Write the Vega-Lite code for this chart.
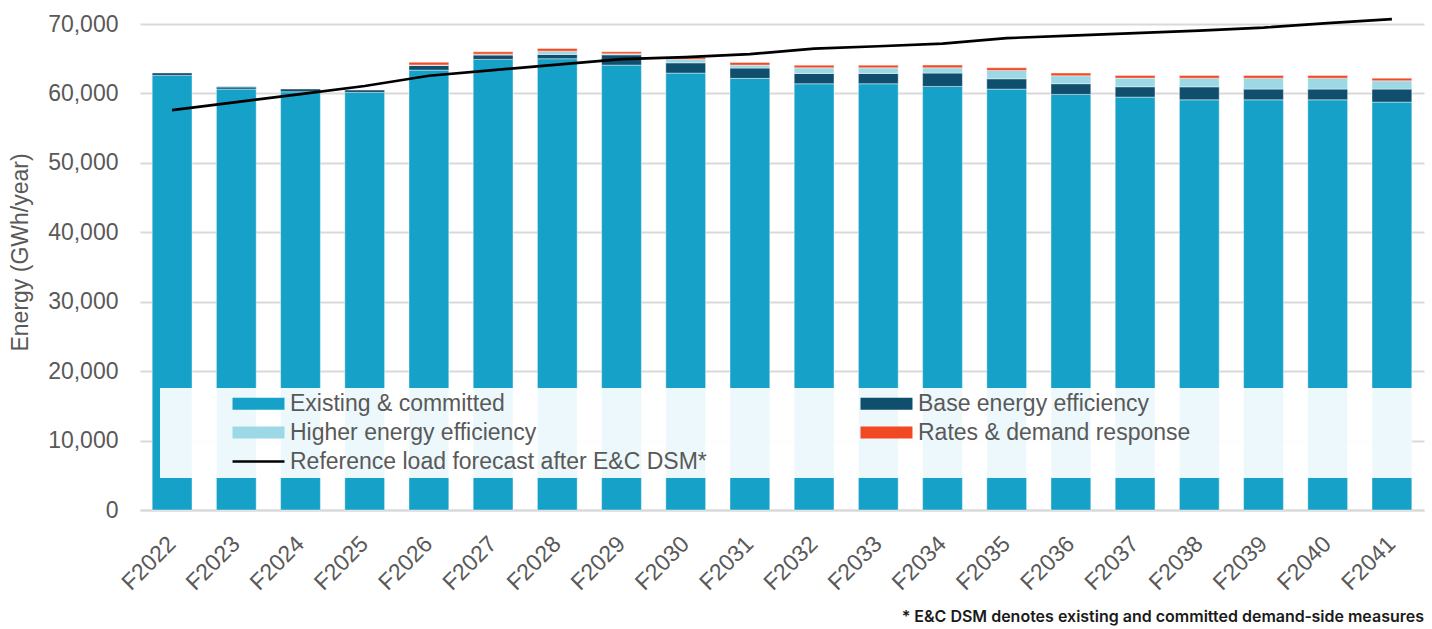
{
  "$schema": "https://vega.github.io/schema/vega-lite/v6.json",
  "width": 1284,
  "height": 486,
  "autosize": {"type": "none"},
  "padding": {"left": 140, "top": 24, "right": 8, "bottom": 119},
  "background": "white",
  "config": {
    "font": "Liberation Sans",
    "view": {"stroke": null},
    "axis": {"labelColor": "#595959", "titleColor": "#595959", "labelFont": "Liberation Sans", "titleFont": "Liberation Sans"}
  },
  "title": {
    "text": "* E&C DSM denotes existing and committed demand‑side measures",
    "orient": "bottom",
    "anchor": "end",
    "font": "Inter",
    "fontSize": 16,
    "fontWeight": 600,
    "color": "#1a1a1a",
    "offset": 14
  },
  "datasets": {
    "bars": [
      {"year": "F2022", "category": "Existing & committed", "value": 62600},
      {"year": "F2022", "category": "Base energy efficiency", "value": 350},
      {"year": "F2023", "category": "Existing & committed", "value": 60630},
      {"year": "F2023", "category": "Base energy efficiency", "value": 290},
      {"year": "F2023", "category": "Higher energy efficiency", "value": 140},
      {"year": "F2024", "category": "Existing & committed", "value": 60240},
      {"year": "F2024", "category": "Base energy efficiency", "value": 390},
      {"year": "F2025", "category": "Existing & committed", "value": 60150},
      {"year": "F2025", "category": "Base energy efficiency", "value": 330},
      {"year": "F2026", "category": "Existing & committed", "value": 63360},
      {"year": "F2026", "category": "Base energy efficiency", "value": 680},
      {"year": "F2026", "category": "Higher energy efficiency", "value": 60},
      {"year": "F2026", "category": "Rates & demand response", "value": 390},
      {"year": "F2027", "category": "Existing & committed", "value": 64900},
      {"year": "F2027", "category": "Base energy efficiency", "value": 620},
      {"year": "F2027", "category": "Higher energy efficiency", "value": 140},
      {"year": "F2027", "category": "Rates & demand response", "value": 330},
      {"year": "F2028", "category": "Existing & committed", "value": 65000},
      {"year": "F2028", "category": "Base energy efficiency", "value": 620},
      {"year": "F2028", "category": "Higher energy efficiency", "value": 470},
      {"year": "F2028", "category": "Rates & demand response", "value": 380},
      {"year": "F2029", "category": "Existing & committed", "value": 64080},
      {"year": "F2029", "category": "Base energy efficiency", "value": 1480},
      {"year": "F2029", "category": "Higher energy efficiency", "value": 140},
      {"year": "F2029", "category": "Rates & demand response", "value": 290},
      {"year": "F2030", "category": "Existing & committed", "value": 62930},
      {"year": "F2030", "category": "Base energy efficiency", "value": 1480},
      {"year": "F2030", "category": "Higher energy efficiency", "value": 530},
      {"year": "F2030", "category": "Rates & demand response", "value": 240},
      {"year": "F2031", "category": "Existing & committed", "value": 62170},
      {"year": "F2031", "category": "Base energy efficiency", "value": 1480},
      {"year": "F2031", "category": "Higher energy efficiency", "value": 430},
      {"year": "F2031", "category": "Rates & demand response", "value": 380},
      {"year": "F2032", "category": "Existing & committed", "value": 61390},
      {"year": "F2032", "category": "Base energy efficiency", "value": 1490},
      {"year": "F2032", "category": "Higher energy efficiency", "value": 810},
      {"year": "F2032", "category": "Rates & demand response", "value": 380},
      {"year": "F2033", "category": "Existing & committed", "value": 61390},
      {"year": "F2033", "category": "Base energy efficiency", "value": 1490},
      {"year": "F2033", "category": "Higher energy efficiency", "value": 810},
      {"year": "F2033", "category": "Rates & demand response", "value": 380},
      {"year": "F2034", "category": "Existing & committed", "value": 61010},
      {"year": "F2034", "category": "Base energy efficiency", "value": 1920},
      {"year": "F2034", "category": "Higher energy efficiency", "value": 770},
      {"year": "F2034", "category": "Rates & demand response", "value": 380},
      {"year": "F2035", "category": "Existing & committed", "value": 60620},
      {"year": "F2035", "category": "Base energy efficiency", "value": 1490},
      {"year": "F2035", "category": "Higher energy efficiency", "value": 1200},
      {"year": "F2035", "category": "Rates & demand response", "value": 380},
      {"year": "F2036", "category": "Existing & committed", "value": 59860},
      {"year": "F2036", "category": "Base energy efficiency", "value": 1540},
      {"year": "F2036", "category": "Higher energy efficiency", "value": 1150},
      {"year": "F2036", "category": "Rates & demand response", "value": 380},
      {"year": "F2037", "category": "Existing & committed", "value": 59470},
      {"year": "F2037", "category": "Base energy efficiency", "value": 1490},
      {"year": "F2037", "category": "Higher energy efficiency", "value": 1250},
      {"year": "F2037", "category": "Rates & demand response", "value": 380},
      {"year": "F2038", "category": "Existing & committed", "value": 59080},
      {"year": "F2038", "category": "Base energy efficiency", "value": 1870},
      {"year": "F2038", "category": "Higher energy efficiency", "value": 1250},
      {"year": "F2038", "category": "Rates & demand response", "value": 380},
      {"year": "F2039", "category": "Existing & committed", "value": 59080},
      {"year": "F2039", "category": "Base energy efficiency", "value": 1540},
      {"year": "F2039", "category": "Higher energy efficiency", "value": 1580},
      {"year": "F2039", "category": "Rates & demand response", "value": 380},
      {"year": "F2040", "category": "Existing & committed", "value": 59080},
      {"year": "F2040", "category": "Base energy efficiency", "value": 1540},
      {"year": "F2040", "category": "Higher energy efficiency", "value": 1580},
      {"year": "F2040", "category": "Rates & demand response", "value": 380},
      {"year": "F2041", "category": "Existing & committed", "value": 58750},
      {"year": "F2041", "category": "Base energy efficiency", "value": 1870},
      {"year": "F2041", "category": "Higher energy efficiency", "value": 1200},
      {"year": "F2041", "category": "Rates & demand response", "value": 380}
    ],
    "forecast": [
      {"year": "F2022", "category": "Reference load forecast after E&C DSM*", "value": 57600},
      {"year": "F2023", "category": "Reference load forecast after E&C DSM*", "value": 58750},
      {"year": "F2024", "category": "Reference load forecast after E&C DSM*", "value": 59900},
      {"year": "F2025", "category": "Reference load forecast after E&C DSM*", "value": 61060},
      {"year": "F2026", "category": "Reference load forecast after E&C DSM*", "value": 62550},
      {"year": "F2027", "category": "Reference load forecast after E&C DSM*", "value": 63360},
      {"year": "F2028", "category": "Reference load forecast after E&C DSM*", "value": 64150},
      {"year": "F2029", "category": "Reference load forecast after E&C DSM*", "value": 64940},
      {"year": "F2030", "category": "Reference load forecast after E&C DSM*", "value": 65230},
      {"year": "F2031", "category": "Reference load forecast after E&C DSM*", "value": 65660},
      {"year": "F2032", "category": "Reference load forecast after E&C DSM*", "value": 66450},
      {"year": "F2033", "category": "Reference load forecast after E&C DSM*", "value": 66800},
      {"year": "F2034", "category": "Reference load forecast after E&C DSM*", "value": 67170},
      {"year": "F2035", "category": "Reference load forecast after E&C DSM*", "value": 67960},
      {"year": "F2036", "category": "Reference load forecast after E&C DSM*", "value": 68330},
      {"year": "F2037", "category": "Reference load forecast after E&C DSM*", "value": 68690},
      {"year": "F2038", "category": "Reference load forecast after E&C DSM*", "value": 69050},
      {"year": "F2039", "category": "Reference load forecast after E&C DSM*", "value": 69480},
      {"year": "F2040", "category": "Reference load forecast after E&C DSM*", "value": 70130},
      {"year": "F2041", "category": "Reference load forecast after E&C DSM*", "value": 70700}
    ]
  },
  "encoding": {
    "x": {
      "field": "year",
      "type": "nominal",
      "title": null,
      "scale": {"paddingInner": 0.38, "paddingOuter": 0.19},
      "axis": {
        "labelAngle": -45,
        "labelAlign": "right",
        "labelBaseline": "middle",
        "labelFontSize": 23,
        "labelPadding": 30,
        "ticks": false,
        "domain": true,
        "domainColor": "#d9d9d9",
        "domainWidth": 2,
        "grid": false
      }
    },
    "y": {
      "field": "value",
      "type": "quantitative",
      "scale": {"domain": [0, 70000], "nice": false},
      "axis": {
        "title": "Energy (GWh/year)",
        "titleFontSize": 23,
        "titleFontWeight": "normal",
        "titleX": -108,
        "titleY": 228,
        "titleAngle": -90,
        "titleBaseline": "bottom",
        "titleAlign": "center",
        "labelFontSize": 23,
        "labelPadding": 22,
        "values": [0, 10000, 20000, 30000, 40000, 50000, 60000, 70000],
        "format": ",.0f",
        "ticks": false,
        "domain": false,
        "gridColor": "#d9d9d9",
        "gridWidth": 2
      }
    },
    "color": {
      "field": "category",
      "type": "nominal",
      "scale": {
        "domain": ["Existing & committed", "Base energy efficiency", "Higher energy efficiency", "Rates & demand response", "Reference load forecast after E&C DSM*"],
        "range": ["#16a2c8", "#0f4e6c", "#9dd8e7", "#f04923", "#000000"]
      },
      "legend": {
        "orient": "none",
        "direction": "horizontal",
        "legendX": 20,
        "legendY": 364,
        "columns": 2,
        "columnPadding": 153,
        "rowPadding": 5,
        "padding": 4,
        "fillColor": "rgba(255,255,255,0.92)",
        "title": " ",
        "titleOrient": "left",
        "titleFontSize": 23,
        "titlePadding": 83,
        "labelFontSize": 23,
        "labelColor": "#595959",
        "labelFont": "Liberation Sans",
        "labelOffset": 20,
        "labelLimit": 900,
        "labelExpr": "datum.label === 'Rates & demand response' ? datum.label + '                                  \u200b' : datum.label",
        "symbolType": "M-4.33,-1H4.33V1H-4.33Z",
        "symbolSize": 144,
        "symbolStrokeWidth": 0,
        "symbolOpacity": 1,
        "encode": {
          "symbols": {
            "update": {
              "shape": {"signal": "datum.value === 'Reference load forecast after E&C DSM*' ? 'M-4.33,-0.2H4.33V0.2H-4.33Z' : 'M-4.33,-1H4.33V1H-4.33Z'"},
              "fill": {"scale": "color", "field": "value"},
              "stroke": {"value": "transparent"},
              "strokeWidth": {"value": 0},
              "opacity": {"value": 1}
            }
          }
        }
      }
    }
  },
  "layer": [
    {
      "data": {"name": "bars"},
      "transform": [
        {"calculate": "indexof(['Existing & committed', 'Base energy efficiency', 'Higher energy efficiency', 'Rates & demand response'], datum.category)", "as": "stackOrder"}
      ],
      "mark": {"type": "bar", "stroke": "white", "strokeWidth": 0.6, "strokeOpacity": 0.7},
      "encoding": {
        "y": {"field": "value", "type": "quantitative", "stack": "zero"},
        "order": {"field": "stackOrder", "type": "quantitative", "sort": "ascending"}
      }
    },
    {
      "data": {"name": "forecast"},
      "mark": {"type": "line", "strokeWidth": 2.6, "color": "#000000"},
      "encoding": {
        "y": {"field": "value", "type": "quantitative", "stack": null}
      }
    }
  ]
}
